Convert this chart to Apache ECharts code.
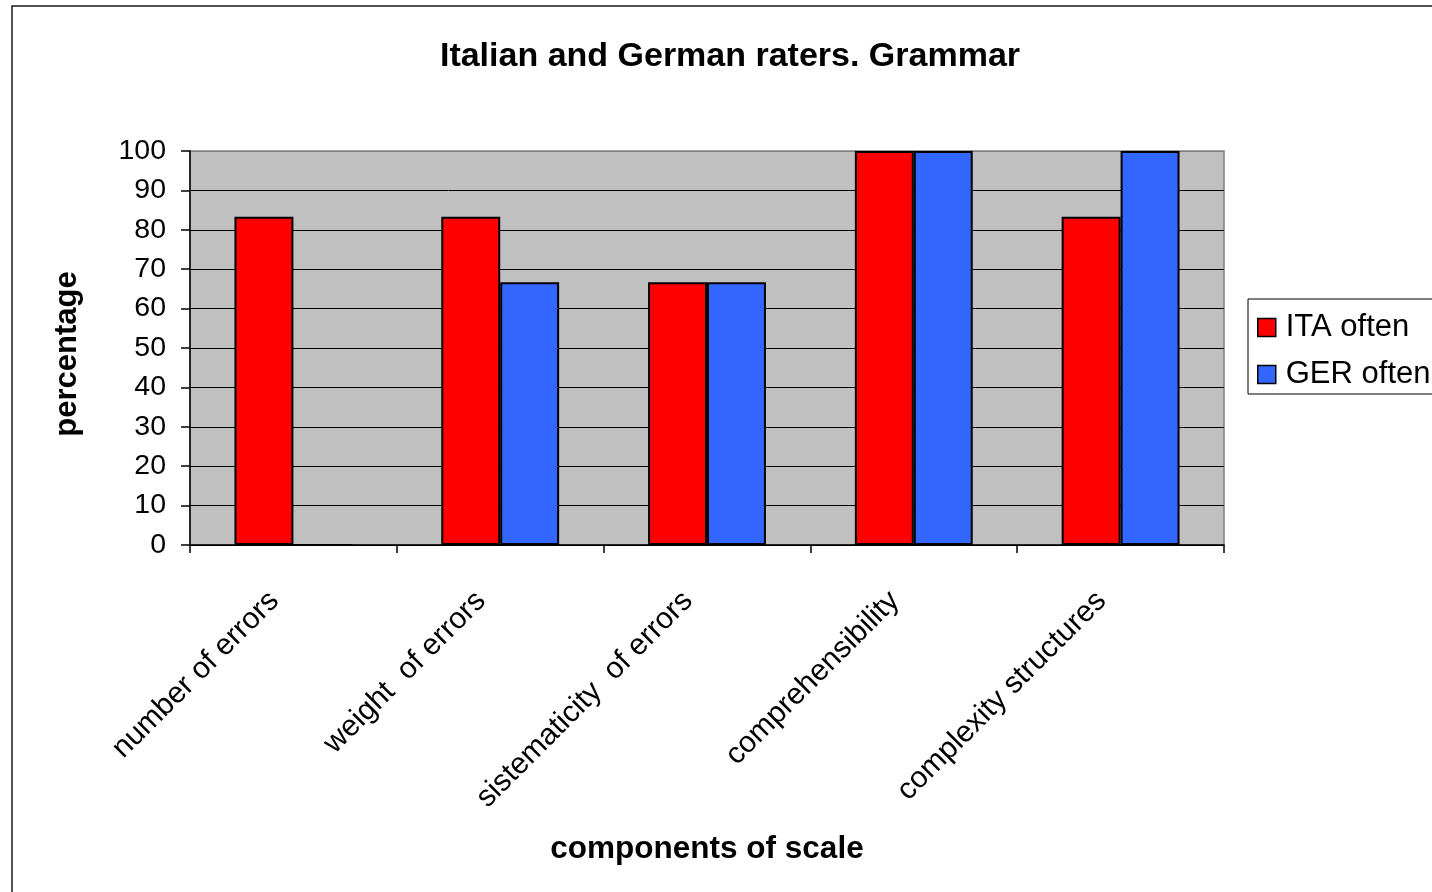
<!DOCTYPE html>
<html>
<head>
<meta charset="utf-8">
<title>Italian and German raters. Grammar</title>
<script src="https://cdn.jsdelivr.net/npm/echarts@6/dist/echarts.min.js"></script>
<style>
  html, body { margin: 0; padding: 0; background: #fff; }
  #chart { width: 1432px; height: 892px; }
</style>
</head>
<body>
<div id="chart"></div>
<script>
// Components of the grammar scale
const categories = [
  'number of errors',
  'weight  of errors',
  'sistematicity  of errors',
  'comprehensibility',
  'complexity structures'
];

// Share of raters (%) answering "often"
const itaOften = [83.3, 83.3, 66.7, 100, 83.3];
const gerOften = [0, 66.7, 66.7, 100, 100];

const seriesNames = ['ITA often', 'GER often'];
const yTicks = { min: 0, max: 100, interval: 10 };

const FONT = '"Liberation Sans", Arial, Helvetica, sans-serif';

const chart = echarts.init(document.getElementById('chart'), null, { renderer: 'canvas' });

// top gridline (at max) uses the plot-frame grey, the others are black
const splitColors = [];
for (let v = yTicks.min; v <= yTicks.max; v += yTicks.interval) {
  splitColors.push(v === yTicks.max ? '#808080' : '#000000');
}

chart.setOption({
  animation: false,
  backgroundColor: '#ffffff',
  textStyle: { fontFamily: FONT, color: '#000' },
  graphic: [{
    type: 'rect',
    shape: { x: 12, y: 6, width: 2000, height: 2000 },
    style: { fill: 'none', stroke: '#1a1a1a', lineWidth: 1.5 },
    silent: true,
    z: 100
  }],
  title: {
    text: 'Italian and German raters. Grammar',
    left: 725,
    top: 35,
    textAlign: 'center',
    textStyle: { fontFamily: FONT, fontSize: 34, fontWeight: 'bold', color: '#000' }
  },
  legend: {
    orient: 'vertical',
    left: 1248,
    top: 299,
    data: seriesNames,
    icon: 'rect',
    itemWidth: 18,
    itemHeight: 18,
    itemGap: 16,
    padding: [13, 40, 4, 9],
    borderColor: '#000',
    borderWidth: 1,
    backgroundColor: '#fff',
    itemStyle: { borderColor: '#000', borderWidth: 1.5 },
    textStyle: { fontFamily: FONT, fontSize: 31, color: '#000', padding: [0, 0, 0, 5] }
  },
  grid: {
    left: 190,
    right: 208,
    top: 151,
    bottom: 347,
    show: true,
    backgroundColor: '#C0C0C0',
    borderColor: '#808080',
    borderWidth: 1.5
  },
  xAxis: {
    type: 'category',
    data: categories,
    name: 'components of scale',
    nameLocation: 'middle',
    nameGap: 304,
    nameTextStyle: {
      fontFamily: FONT, fontSize: 31.5, fontWeight: 'bold', color: '#000',
      align: 'center', verticalAlign: 'middle'
    },
    axisLine: { show: true, lineStyle: { color: '#000', width: 1.5 } },
    axisTick: { show: true, alignWithLabel: false, length: 8, lineStyle: { color: '#000', width: 1.5 } },
    axisLabel: {
      interval: 0,
      rotate: 45,
      margin: 62,
      align: 'right',
      verticalAlign: 'bottom',
      padding: [0, 6, 6, 0],
      fontFamily: FONT,
      fontSize: 30,
      color: '#000'
    },
    splitLine: { show: false }
  },
  yAxis: {
    type: 'value',
    min: yTicks.min,
    max: yTicks.max,
    interval: yTicks.interval,
    name: 'percentage',
    nameLocation: 'middle',
    nameGap: 123,
    nameRotate: 90,
    nameTextStyle: {
      fontFamily: FONT, fontSize: 31, fontWeight: 'bold', color: '#000',
      align: 'center', verticalAlign: 'middle', padding: [0, 12, 0, 0]
    },
    axisLine: { show: true, lineStyle: { color: '#000', width: 1.5 } },
    axisTick: { show: true, inside: false, length: 9, lineStyle: { color: '#000', width: 1.5 } },
    axisLabel: { margin: 24, fontFamily: FONT, fontSize: 28.5, color: '#000' },
    splitLine: { show: true, lineStyle: { color: splitColors, width: 1 } }
  },
  series: [
    {
      name: seriesNames[0],
      type: 'bar',
      data: itaOften,
      barGap: '0%',
      barCategoryGap: '43%',
      itemStyle: { color: '#FF0000', borderColor: '#000', borderWidth: 2 }
    },
    {
      name: seriesNames[1],
      type: 'bar',
      data: gerOften,
      barGap: '0%',
      barCategoryGap: '43%',
      itemStyle: { color: '#3366FF', borderColor: '#000', borderWidth: 2 }
    }
  ]
});
</script>
</body>
</html>
